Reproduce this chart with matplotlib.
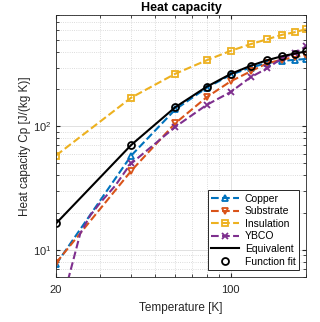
import matplotlib
matplotlib.use("Agg")
import matplotlib.pyplot as plt
from matplotlib.ticker import FixedLocator, NullFormatter, LogLocator

plt.rcParams['font.family'] = ['Liberation Sans', 'DejaVu Sans']

temperature = [20, 40, 60, 80, 100, 120, 140, 160, 180, 200]
copper = [7.6, 58, 137, 205, 262, 300, 326, 340, 346, 352]
substrate = [7.8, 43.6, 106, 172, 232, 279, 325, 347, 365, 378]
insulation = [58, 171, 267, 343, 410, 464, 509, 552, 580, 614]
equivalent = [16.3, 70.7, 143, 209, 266, 310, 344, 370, 389, 405]
# YBCO drawn as a denser curve (markers only at the common temperatures)
ybco_temperature = [20, 22.7, 25, 27.4, 30, 34.5, 38.4, 40, 60, 80, 100,
                    120, 140, 160, 180, 200]
ybco = [2.5, 6.4, 13.5, 18.9, 23.9, 33, 45, 50, 99, 149, 190, 250, 296,
        356, 392, 445]
ybco_marker_idx = [0, 7, 8, 9, 10, 11, 12, 13, 14, 15]

fig = plt.figure(figsize=(3.2, 3.22), dpi=100)
ax = fig.add_axes([56/320, 1-277/322, 250/320, 262/322])

c_cu = '#0072BD'
c_sub = '#D95319'
c_ins = '#EDB120'
c_yb = '#7E2F8E'

lw = 1.5
mew = 1.3
ax.plot(temperature, copper, '--', color=c_cu, lw=lw, marker='^', ms=5,
        mfc='none', mew=mew, label='Copper')
ax.plot(temperature, substrate, '--', color=c_sub, lw=lw, marker='v', ms=5,
        mfc='none', mew=mew, label='Substrate')
ax.plot(temperature, insulation, '--', color=c_ins, lw=lw, marker='s', ms=4.5,
        mfc='none', mew=mew, label='Insulation')
ax.plot(ybco_temperature, ybco, '--', color=c_yb, lw=lw, marker='x', ms=4.5,
        mew=mew, markevery=ybco_marker_idx, label='YBCO')
ax.plot(temperature, equivalent, '-', color='black', lw=lw, label='Equivalent')
ax.plot(temperature, equivalent, 'o', color='black', ms=5, mfc='none',
        mew=mew, label='Function fit')

ax.set_xscale('log')
ax.set_yscale('log')
ax.set_xlim(20, 200)
ax.set_ylim(6, 800)

ax.xaxis.set_major_locator(FixedLocator([20, 100]))
ax.set_xticklabels(['20', '100'])
ax.xaxis.set_minor_locator(FixedLocator([30, 40, 50, 60, 70, 80, 90, 200]))
ax.xaxis.set_minor_formatter(NullFormatter())
ax.yaxis.set_major_locator(LogLocator(base=10))
ax.yaxis.set_minor_locator(LogLocator(base=10, subs=range(2, 10)))
ax.yaxis.set_minor_formatter(NullFormatter())

ax.grid(True, which='major', color='#dcdcdc', lw=0.6, ls='-')
ax.grid(True, which='minor', color='#d0d0d0', lw=0.6, ls=':')
ax.set_axisbelow(True)

ax.tick_params(which='both', direction='in', top=True, right=True,
               labelsize=8, colors='#262626', length=3)
ax.tick_params(axis='x', which='major', pad=6)
ax.tick_params(which='minor', length=2)
for s in ax.spines.values():
    s.set_color('#262626')
    s.set_linewidth(0.6)

ax.set_title('Heat capacity', fontsize=9, fontweight='bold', pad=3)
ax.set_xlabel('Temperature [K]', fontsize=8.5, color='#262626', labelpad=5)
ax.set_ylabel('Heat capacity Cp [J/(kg K)]', fontsize=8.5, color='#262626',
              labelpad=1)

leg = ax.legend(loc='lower right', fontsize=7.5, frameon=True, fancybox=False,
                edgecolor='#262626', framealpha=1, borderpad=0.3,
                labelspacing=0.25, handlelength=2.6, handletextpad=0.6,
                borderaxespad=0.7)
leg.get_frame().set_linewidth(0.7)

fig.savefig('out.png', dpi=100)
